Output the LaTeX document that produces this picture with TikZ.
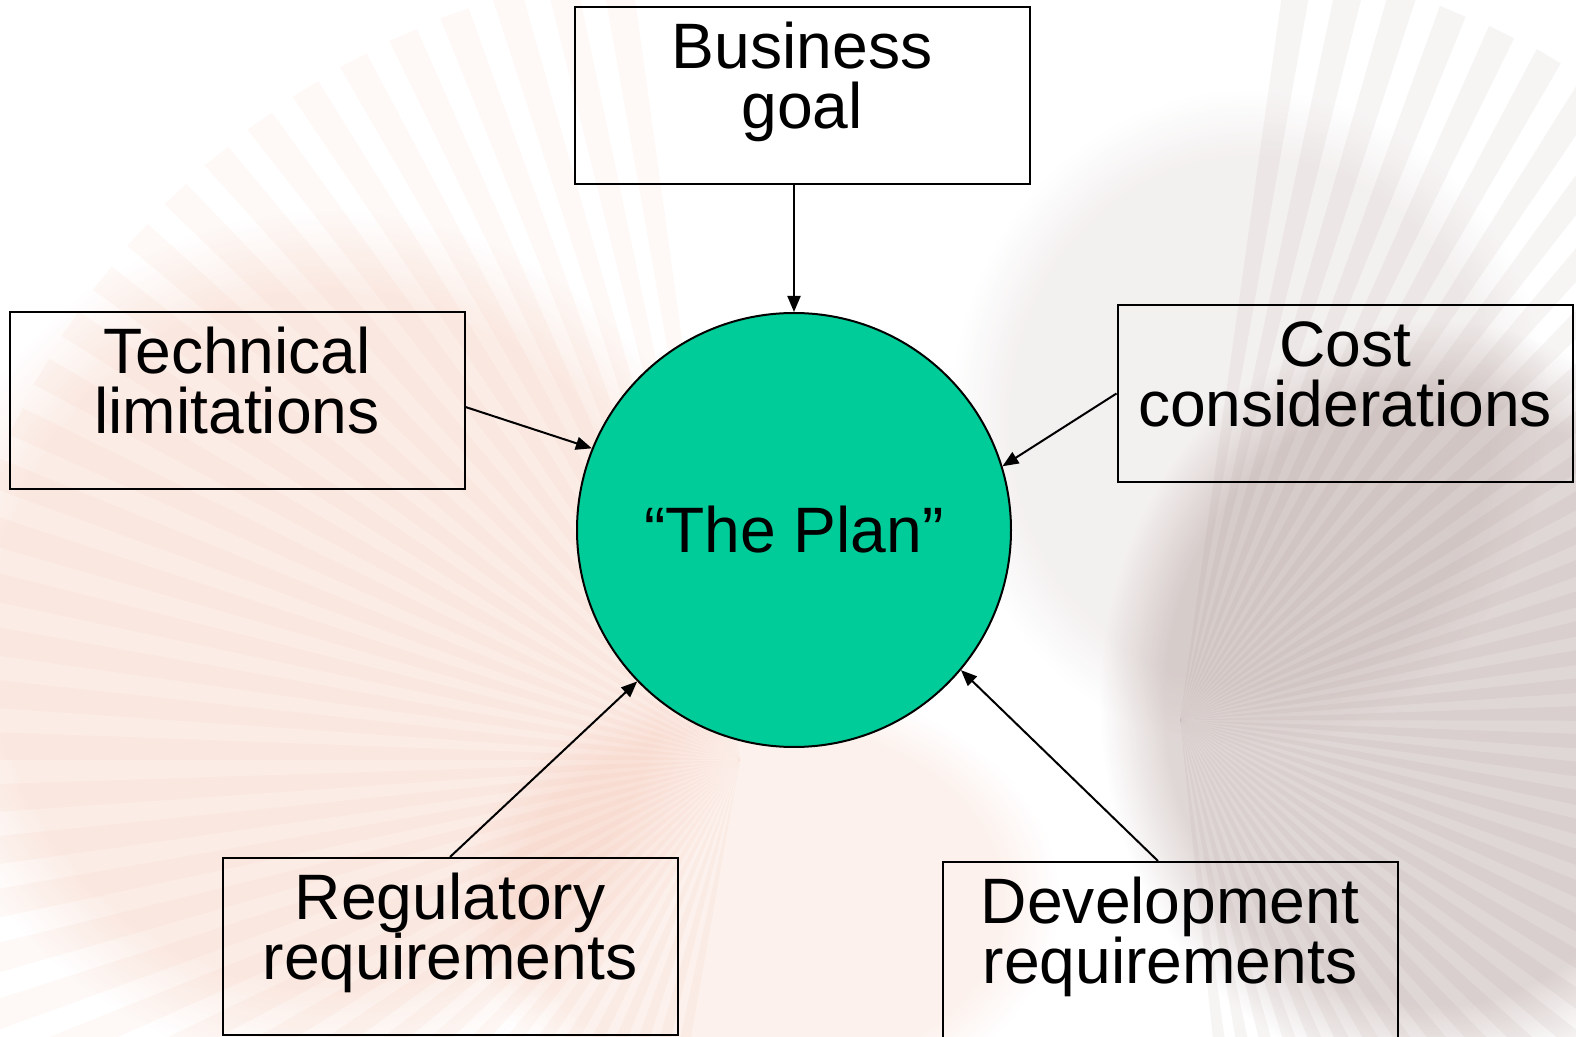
\documentclass[tikz,border=0pt]{standalone}
\usepackage{fontspec}
\setmainfont{Liberation Sans}
\usetikzlibrary{arrows.meta,calc,fadings}
\definecolor{plangreen}{RGB}{0,204,153}
\definecolor{shellpeach}{RGB}{236,160,130}
\definecolor{shellgrey}{RGB}{140,110,105}
\begin{document}
\begin{tikzpicture}[x=0.5pt,y=-0.5pt,
  factor/.style={draw=black, line width=1pt, minimum width=227.5pt, minimum height=88.5pt,
    inner sep=0pt, align=center, font=\fontsize{32.1}{30}\selectfont,
    text height=38pt, text depth=5pt},
  feed/.style={line width=1pt, -{Triangle[length=8pt,width=6.5pt]}},
]
\useasboundingbox (0,0) rectangle (1576,1037);
\clip (0,0) rectangle (1576,1037);

% faint shell watermark in the background
\fill[shellpeach, opacity=0.2, path fading=circle with fuzzy edge 20 percent]
  (330,640) ellipse (420 and 430);
\fill[shellpeach, opacity=0.15, path fading=circle with fuzzy edge 20 percent]
  (760,900) ellipse (300 and 220);
\fill[shellgrey, opacity=0.28, path fading=circle with fuzzy edge 20 percent]
  (1430,700) ellipse (330 and 380);
\fill[shellgrey, opacity=0.1, path fading=circle with fuzzy edge 20 percent]
  (1250,420) ellipse (300 and 330);
\foreach \a in {100,104,...,262}{
  \fill[shellpeach, opacity=0.07] (740,760) -- ++(\a:800) -- ++(\a+93:30) -- cycle;
}
\foreach \a in {-82,-78,...,82}{
  \fill[shellgrey, opacity=0.07] (1180,720) -- ++(\a:760) -- ++(\a+93:28) -- cycle;
}

% the plan
\node[circle, fill=plangreen, draw=black, line width=1pt, minimum size=217pt, inner sep=0pt,
      font=\fontsize{32.1}{36}\selectfont] (plan) at (794,530) {“The Plan”};

% the influencing factors
\node[factor] (biz)  at (802,95.5)   {Business\\goal};
\node[factor] (tech) at (237,400.5)  {Technical\\limitations};
\node[factor] (cost) at (1345,393.5) {Cost\\considerations};
\node[factor] (reg)  at (450,946.5)  {Regulatory\\requirements};
\node[factor] (dev)  at (1170,950.5) {Development\\requirements};

% connectors
\draw[feed] (plan.north |- biz.south) -- (plan.north);
\draw[feed] ($(tech.east)+(0,6.5)$) -- (plan.158.8);
\draw[feed] (cost.west) -- (plan.17.2);
\draw[feed] (reg.north) -- (plan.224.6);
\draw[feed] ($(dev.north)+(-12,0)$) -- (plan.320.3);
\end{tikzpicture}
\end{document}
